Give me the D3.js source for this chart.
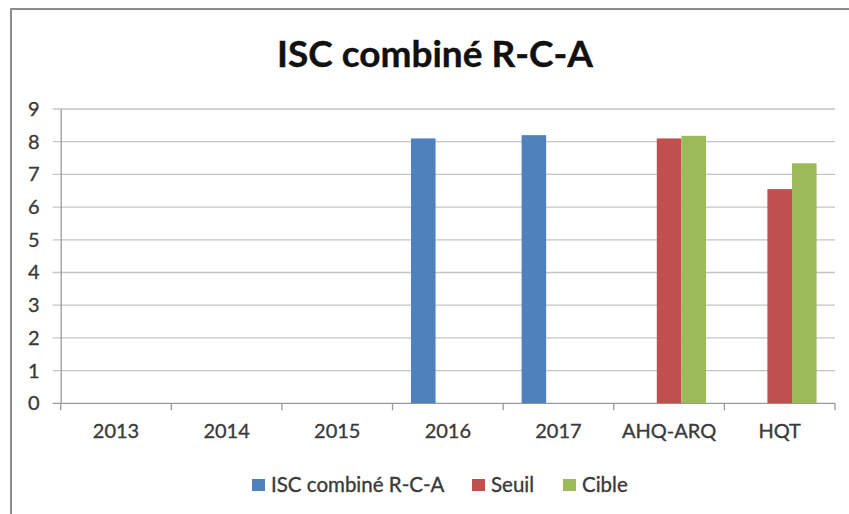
<!DOCTYPE html>
<html><head><meta charset="utf-8">
<script src="https://cdn.jsdelivr.net/npm/d3@7"></script>
<style>html,body{margin:0;padding:0;background:#fff;}svg{display:block;}</style>
</head><body>
<svg id="c" width="849" height="514"></svg>
<script>
const title = "ISC combiné R-C-A";
const categories = ["2013","2014","2015","2016","2017","AHQ-ARQ","HQT"];
const seriesNames = ["ISC combiné R-C-A","Seuil","Cible"];
const iscValues = [null,null,null,8.1,8.2,null,null];
const seuilValues = [null,null,null,null,null,8.1,6.55];
const cibleValues = [null,null,null,null,null,8.18,7.34];
const yTicks = [0,1,2,3,4,5,6,7,8,9];
const colors = ["#4f81bd","#c0504d","#9bbb59"];

(function(){
const series = [iscValues, seuilValues, cibleValues];
const svg = d3.select("#c");
const font = "Lato, 'Open Sans', sans-serif";
const textCol = "#3a3a3a";

// frame
svg.append("rect").attr("x",11).attr("y",9).attr("width",840).attr("height",510)
  .attr("fill","#fff").attr("stroke","#8c8c8c").attr("stroke-width",2);

const pLeft = 60.7, pRight = 835, pTop = 109, pBottom = 403.3;
const x = d3.scaleBand().domain(categories).range([pLeft,pRight]).paddingInner(0).paddingOuter(0);
const xs = d3.scaleBand().domain(d3.range(series.length)).range([0,x.bandwidth()]).paddingInner(0).paddingOuter(0.75);
const y = d3.scaleLinear().domain([0,9]).range([pBottom,pTop]);

// gridlines
svg.append("g").selectAll("line").data(yTicks).join("line")
  .attr("x1",pLeft-8).attr("x2",pRight).attr("y1",d=>y(d)).attr("y2",d=>y(d))
  .attr("stroke",d=>d===0?"#9a9a9a":"#c4c4c4").attr("stroke-width",1.3);

// y axis
const yAxis = d3.axisLeft(y).tickValues(yTicks).tickSize(0).tickPadding(21);
const gy = svg.append("g").attr("transform",`translate(${pLeft},0)`).call(yAxis);
gy.select(".domain").attr("stroke","#9a9a9a").attr("stroke-width",1.3);
gy.selectAll("text").attr("font-family",font).attr("font-size",20).attr("fill",textCol)
  .attr("stroke",textCol).attr("stroke-width",0.35);

// bars
series.forEach((vals,si)=>{
  svg.append("g").selectAll("rect").data(categories.map((c,i)=>({c,v:vals[i]})).filter(d=>d.v!=null))
    .join("rect")
    .attr("x",d=>x(d.c)+xs(si)).attr("width",xs.bandwidth())
    .attr("y",d=>y(d.v)).attr("height",d=>y(0)-y(d.v))
    .attr("fill",colors[si]);
});

// x axis
const xAxis = d3.axisBottom(x).tickSize(0).tickPadding(21);
const gx = svg.append("g").attr("transform",`translate(0,${pBottom})`).call(xAxis);
gx.select(".domain").remove();
gx.selectAll("text").attr("font-family",font).attr("font-size",20).attr("fill",textCol)
  .attr("stroke",textCol).attr("stroke-width",0.35);
// category boundary ticks
const bounds = categories.map(c=>x(c)).concat([pRight]);
svg.append("g").selectAll("line").data(bounds).join("line")
  .attr("x1",d=>d).attr("x2",d=>d).attr("y1",pBottom).attr("y2",pBottom+7)
  .attr("stroke","#9a9a9a").attr("stroke-width",1.3);

// title
svg.append("text").attr("x",435).attr("y",67).attr("text-anchor","middle")
  .attr("font-family",font).attr("font-weight","bold").attr("font-size",36)
  .attr("fill","#111").attr("stroke","#111").attr("stroke-width",0.4)
  .attr("textLength",316).attr("lengthAdjust","spacingAndGlyphs")
  .text(title);

// legend
const legendX = [252, 472, 563];
const lg = svg.append("g");
seriesNames.forEach((n,i)=>{
  lg.append("rect").attr("x",legendX[i]).attr("y",479).attr("width",13).attr("height",12).attr("fill",colors[i]);
  lg.append("text").attr("x",legendX[i]+19).attr("y",492).attr("font-family",font)
    .attr("font-size",20.5).attr("fill",textCol).attr("stroke",textCol).attr("stroke-width",0.35).text(n);
});
})();
</script>
</body></html>
